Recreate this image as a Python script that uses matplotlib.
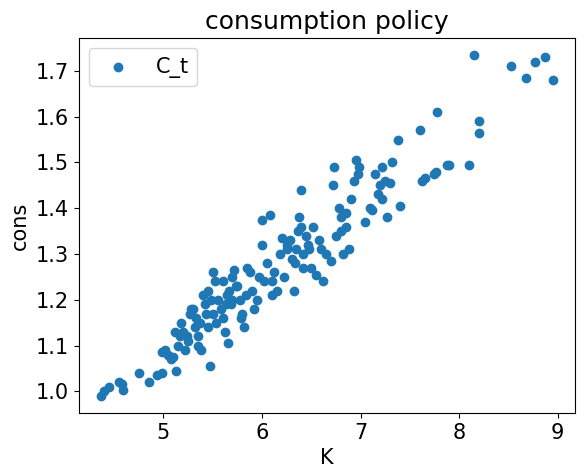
import matplotlib
matplotlib.use("Agg")
import matplotlib.pyplot as plt

K = [4.37,4.40,4.45,4.55,4.58,4.59,4.75,4.85,4.93,4.98,4.98,5.02,5.05,5.1,5.13,5.15,5.17,5.2,5.22,5.25,
     5.27,5.3,5.32,5.35,5.37,5.4,5.42,5.45,5.47,5.5,5.5,5.52,5.55,5.6,5.62,5.63,5.65,5.67,5.7,5.72,
     5.75,5.78,5.8,5.82,5.85,5.88,5.9,5.92,5.95,5.97,6.0,6.0,6.02,6.05,6.08,6.1,6.12,6.15,6.18,6.2,
     6.22,6.25,6.3,6.32,6.35,6.37,6.38,6.4,6.42,6.45,6.47,6.5,6.52,6.55,6.6,6.62,6.7,6.72,6.73,6.75,
     6.78,6.8,6.82,6.85,6.88,6.9,6.93,6.95,6.97,6.98,7.1,7.12,7.15,7.2,7.22,7.25,7.27,7.3,7.32,7.38,
     7.4,7.6,7.62,7.65,7.75,7.77,7.78,7.88,7.9,8.1,8.15,8.2,8.2,8.53,8.68,8.77,8.87,8.95,
     5.08,5.12,5.18,5.24,5.28,5.33,5.38,5.43,5.48,5.53,5.58,5.64,5.69,5.74,5.79,5.84,5.35,5.45,5.6,5.7,
     6.28,6.33,6.42,6.48,6.58,6.65,6.8,6.85,7.05,7.18,7.22,6.4,6.1,6.25]
cons = [0.99,1.00,1.01,1.02,1.015,1.003,1.04,1.02,1.035,1.04,1.085,1.09,1.08,1.075,1.045,1.1,1.12,1.13,1.09,1.11,
        1.17,1.18,1.14,1.1,1.15,1.21,1.19,1.22,1.055,1.26,1.17,1.24,1.2,1.16,1.13,1.19,1.105,1.22,1.25,1.265,
        1.23,1.2,1.17,1.14,1.27,1.26,1.22,1.18,1.2,1.25,1.32,1.375,1.24,1.28,1.385,1.21,1.26,1.22,1.3,1.335,
        1.25,1.32,1.29,1.22,1.31,1.35,1.38,1.44,1.3,1.34,1.32,1.27,1.36,1.255,1.31,1.24,1.285,1.45,1.49,1.34,
        1.4,1.38,1.3,1.36,1.31,1.42,1.46,1.505,1.475,1.49,1.4,1.395,1.475,1.45,1.49,1.46,1.38,1.455,1.5,1.55,
        1.405,1.57,1.46,1.465,1.475,1.48,1.61,1.495,1.495,1.495,1.735,1.59,1.565,1.71,1.685,1.72,1.73,1.68,
        1.07,1.13,1.15,1.12,1.18,1.16,1.09,1.17,1.2,1.15,1.18,1.21,1.19,1.23,1.16,1.21,1.12,1.14,1.24,1.2,
        1.33,1.28,1.27,1.31,1.33,1.3,1.35,1.39,1.37,1.43,1.42,1.36,1.24,1.31]

plt.rcParams['font.size'] = 15
fig, ax = plt.subplots(figsize=(5.84, 4.72), dpi=100)
ax.scatter(K, cons, color='#1f77b4', label='C_t')
ax.set_title('consumption policy', fontsize=18)
ax.set_xlabel('K')
ax.set_ylabel('cons')
ax.set_xticks([5, 6, 7, 8, 9])
ax.legend(loc='upper left')
fig.subplots_adjust(left=0.135, right=0.985, top=0.92, bottom=0.125)
fig.savefig('out.png')
